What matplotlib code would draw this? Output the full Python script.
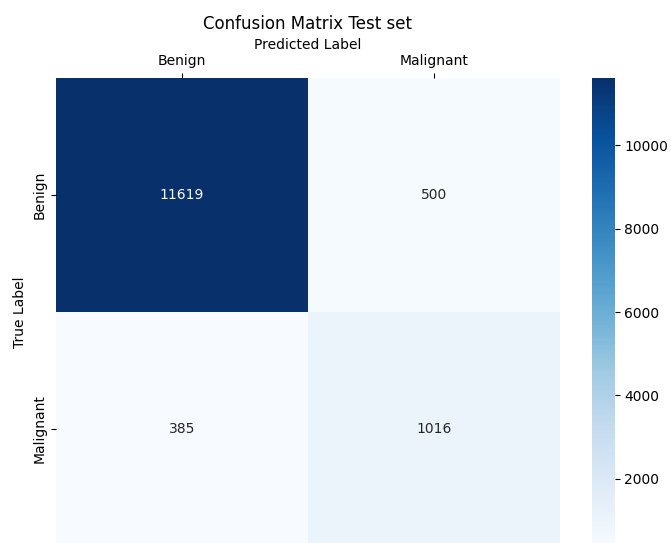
import matplotlib
matplotlib.use("Agg")
import matplotlib.pyplot as plt
import seaborn as sns
import numpy as np

labels = ["Benign", "Malignant"]
row_benign = [11619, 500]
row_malignant = [385, 1016]

cm = np.array([row_benign, row_malignant])

fig = plt.figure(figsize=(6.71, 5.43), dpi=100)
ax = fig.add_axes([0.0835, -0.0055, 0.751, 0.862])
cax = fig.add_axes([0.882, -0.0055, 0.034, 0.862])

sns.heatmap(cm, annot=True, fmt="d", cmap="Blues", ax=ax, cbar_ax=cax,
            xticklabels=labels, yticklabels=labels)
ax.xaxis.tick_top()
ax.xaxis.set_label_position("top")
ax.set_xlabel("Predicted Label")
ax.set_ylabel("True Label")
ax.set_title("Confusion Matrix Test set", fontsize=12)
cax.tick_params(labelsize=10)

fig.savefig("out.png", dpi=100)
